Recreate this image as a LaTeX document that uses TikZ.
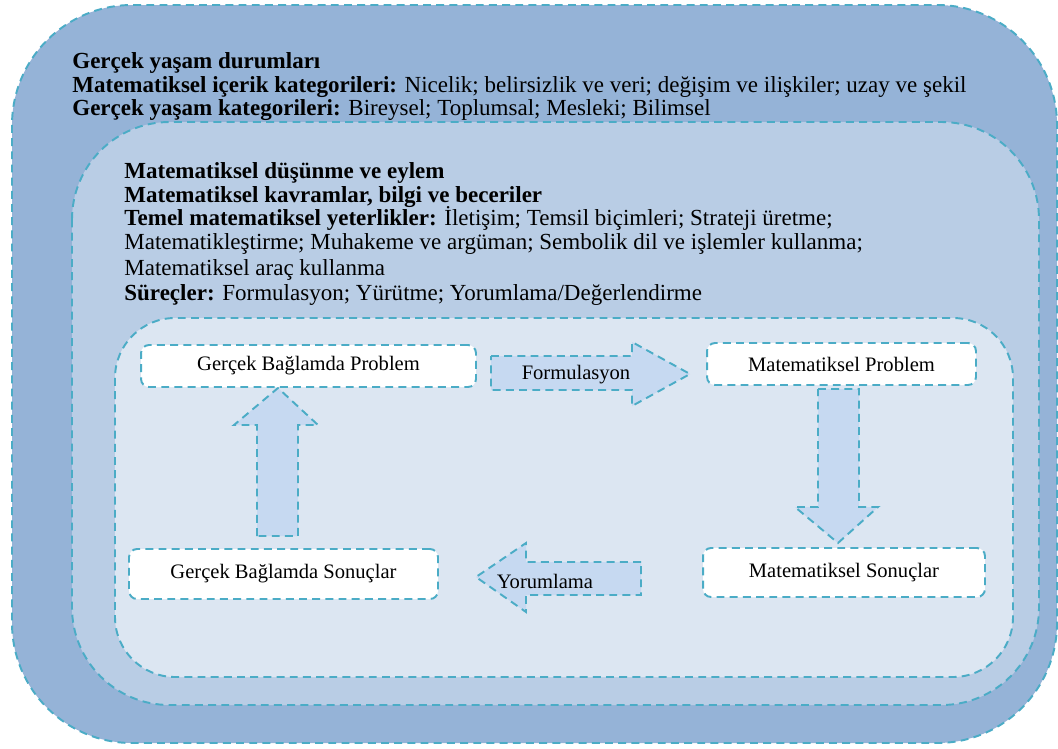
\documentclass[tikz,border=0pt]{standalone}
\usepackage{fontspec}
\setmainfont{Liberation Serif}[BoldFont={Liberation Serif Bold}]
\definecolor{outerc}{HTML}{95B3D7}
\definecolor{midc}{HTML}{B9CDE5}
\definecolor{innerc}{HTML}{DCE6F2}
\definecolor{arrc}{HTML}{C6D9F1}
\definecolor{dashc}{HTML}{4BACC6}
\begin{document}
\begin{tikzpicture}[x=0.02cm,y=-0.02cm,
  dline/.style={draw=dashc, line width=1.1pt, dash pattern=on 4.5pt off 3pt},
  layer/.style={dline},
  wbox/.style={dline, fill=white, rounded corners=0.16cm, inner sep=0pt, font=\fontsize{11.7}{14}\selectfont},
  blockarrow/.style={dline, fill=arrc, line join=miter},
  txt/.style={anchor=base west, inner sep=0pt, font=\fontsize{13.1}{15}\selectfont},
  albl/.style={inner sep=0pt, font=\fontsize{11.7}{14}\selectfont}
]
\useasboundingbox (0,0) rectangle (1058,748);
% layers
\path[layer, fill=outerc, rounded corners=2.4cm] (12,5) rectangle (1057,743);
\path[layer, fill=midc, rounded corners=1.95cm] (72,122) rectangle (1039,705);
\path[layer, fill=innerc, rounded corners=1.2cm] (115,318) rectangle (1013,677);
% outer texts
\node[txt] (o1) at (72,68) {\textbf{Gerçek yaşam durumları}};
\node[txt] (o2) at (72,92) {\textbf{Matematiksel içerik kategorileri:} Nicelik; belirsizlik ve veri; değişim ve ilişkiler; uzay ve şekil};
\node[txt] (o3) at (72,115) {\textbf{Gerçek yaşam kategorileri:} Bireysel; Toplumsal; Mesleki; Bilimsel};
% middle texts
\node[txt] (m1) at (124,178) {\textbf{Matematiksel düşünme ve eylem}};
\node[txt] (m2) at (124,202) {\textbf{Matematiksel kavramlar, bilgi ve beceriler}};
\node[txt] (m3) at (124,225) {\textbf{Temel matematiksel yeterlikler:} İletişim; Temsil biçimleri; Strateji üretme;};
\node[txt] (m4) at (124,249) {Matematikleştirme; Muhakeme ve argüman; Sembolik dil ve işlemler kullanma;};
\node[txt] (m5) at (124,275) {Matematiksel araç kullanma};
\node[txt] (m6) at (124,300) {\textbf{Süreçler:} Formulasyon; Yürütme; Yorumlama/Değerlendirme};
% block arrows
\path[blockarrow] (491,356) -- (632,356) -- (632,342) -- (690,374) -- (632,406) -- (632,390) -- (491,390) -- cycle;
\path[blockarrow] (818,389) -- (859,389) -- (859,507) -- (878,507) -- (838,543) -- (795,507) -- (818,507) -- cycle;
\path[blockarrow] (641,562) -- (526,562) -- (526,543) -- (476,577) -- (526,612) -- (526,595) -- (641,595) -- cycle;
\path[blockarrow] (257,536) -- (257,425) -- (234,425) -- (278,388) -- (318,425) -- (298,425) -- (298,536) -- cycle;
\node[albl] (f) at (576,375) {Formulasyon};
\node[albl] (y) at (545,581) {Yorumlama};
% boxes
\node[wbox, minimum width=6.7cm, minimum height=0.84cm] (gbp) at (308.5,366) {Gerçek Bağlamda Problem};
\node[wbox, minimum width=5.38cm, minimum height=0.84cm] (mp) at (841.5,364) {Matematiksel Problem};
\node[wbox, minimum width=6.18cm, minimum height=1.0cm] (gbs) at (283.5,574) {Gerçek Bağlamda Sonuçlar};
\node[wbox, minimum width=5.64cm, minimum height=0.98cm] (ms) at (844,572.5) {Matematiksel Sonuçlar};
\end{tikzpicture}
\end{document}
